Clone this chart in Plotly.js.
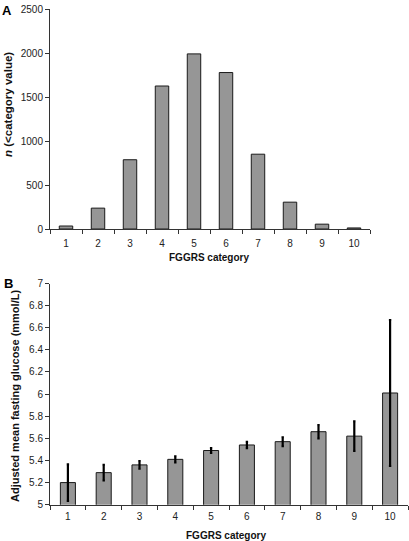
<!DOCTYPE html>
<html>
<head>
<meta charset="utf-8">
<script src="https://cdn.plot.ly/plotly-3.0.1.min.js"></script>
<style>
  html, body { margin: 0; padding: 0; background: #fff; }
  #chart { width: 409px; height: 541px; }
</style>
</head>
<body>
<div id="chart"></div>
<script>
// Data
const categories = ['1', '2', '3', '4', '5', '6', '7', '8', '9', '10'];
const countsA = [34, 237, 787, 1625, 1990, 1778, 850, 305, 55, 12];
const meanGlucoseB = [5.20, 5.29, 5.36, 5.41, 5.49, 5.54, 5.57, 5.66, 5.62, 6.01];
const errorB = [0.165, 0.07, 0.035, 0.027, 0.022, 0.028, 0.04, 0.06, 0.134, 0.66];
const yTicksA = [0, 500, 1000, 1500, 2000, 2500];
const yTicksB = [5, 5.2, 5.4, 5.6, 5.8, 6, 6.2, 6.4, 6.6, 6.8, 7];

const W = 409, H = 541;
const px = v => v / W;
const py = v => (H - v) / H;

const font = 'Liberation Sans, Arial, sans-serif';
const barFill = '#969696';
const barLine = '#1a1a1a';
const axisCol = '#333333';

const traceA = {
  type: 'bar', x: categories, y: countsA, xaxis: 'x', yaxis: 'y',
  marker: { color: barFill, line: { color: barLine, width: 1 } },
  hoverinfo: 'x+y'
};
const traceB = {
  type: 'bar', x: categories, y: meanGlucoseB, xaxis: 'x2', yaxis: 'y2',
  marker: { color: barFill, line: { color: barLine, width: 1 } },
  error_y: { type: 'data', array: errorB, visible: true, color: '#000', thickness: 2.2, width: 1.2 },
  hoverinfo: 'x+y'
};

const commonX = {
  type: 'category', tickson: 'boundaries', ticks: 'outside', ticklen: 4, tickwidth: 1,
  tickcolor: axisCol, showline: true, linecolor: axisCol, linewidth: 1,
  showgrid: false, zeroline: false, fixedrange: true,
  tickfont: { family: font, size: 10, color: '#222' }
};
const commonY = {
  ticks: 'outside', ticklen: 4, tickwidth: 1, tickcolor: axisCol,
  showline: true, linecolor: axisCol, linewidth: 1,
  showgrid: false, zeroline: false, fixedrange: true,
  tickfont: { family: font, size: 10, color: '#222' }
};

const layout = {
  width: W, height: H,
  margin: { l: 0, r: 0, t: 0, b: 0 },
  paper_bgcolor: '#fff', plot_bgcolor: '#fff',
  showlegend: false,
  bargap: 0.58,
  xaxis: Object.assign({}, commonX, { domain: [px(50), px(370)], anchor: 'y', ticklabelstandoff: 5 }),
  yaxis: Object.assign({}, commonY, { domain: [py(229), py(9)], anchor: 'x', range: [0, 2500], tickvals: yTicksA }),
  xaxis2: Object.assign({}, commonX, { domain: [px(50), px(408)], anchor: 'y2', ticklabelstandoff: 2 }),
  yaxis2: Object.assign({}, commonY, { domain: [py(504.7), py(283.5)], anchor: 'x2', range: [5, 7], tickvals: yTicksB }),
  annotations: [
    { text: '<b>A</b>', xref: 'paper', yref: 'paper', x: px(7), y: py(10), xanchor: 'center', yanchor: 'middle', showarrow: false, font: { family: font, size: 13, color: '#000' } },
    { text: '<b>B</b>', xref: 'paper', yref: 'paper', x: px(8), y: py(283), xanchor: 'center', yanchor: 'middle', showarrow: false, font: { family: font, size: 13, color: '#000' } },
    { text: '<b><i>n</i> (&lt;category value)</b>', xref: 'paper', yref: 'paper', x: px(8), y: py(105), textangle: -90, xanchor: 'center', yanchor: 'middle', showarrow: false, font: { family: font, size: 11.5, color: '#111' } },
    { text: '<b>FGGRS category</b>', xref: 'paper', yref: 'paper', x: px(209), y: py(257), xanchor: 'center', yanchor: 'middle', showarrow: false, font: { family: font, size: 10, color: '#111' } },
    { text: '<b>Adjusted mean fasting glucose (mmol/L)</b>', xref: 'paper', yref: 'paper', x: px(15), y: py(396), textangle: -90, xanchor: 'center', yanchor: 'middle', showarrow: false, font: { family: font, size: 11, color: '#111' } },
    { text: '<b>FGGRS category</b>', xref: 'paper', yref: 'paper', x: px(226), y: py(535), xanchor: 'center', yanchor: 'middle', showarrow: false, font: { family: font, size: 10, color: '#111' } }
  ]
};

Plotly.newPlot('chart', [traceA, traceB], layout, { displayModeBar: false, staticPlot: true });
</script>
</body>
</html>
